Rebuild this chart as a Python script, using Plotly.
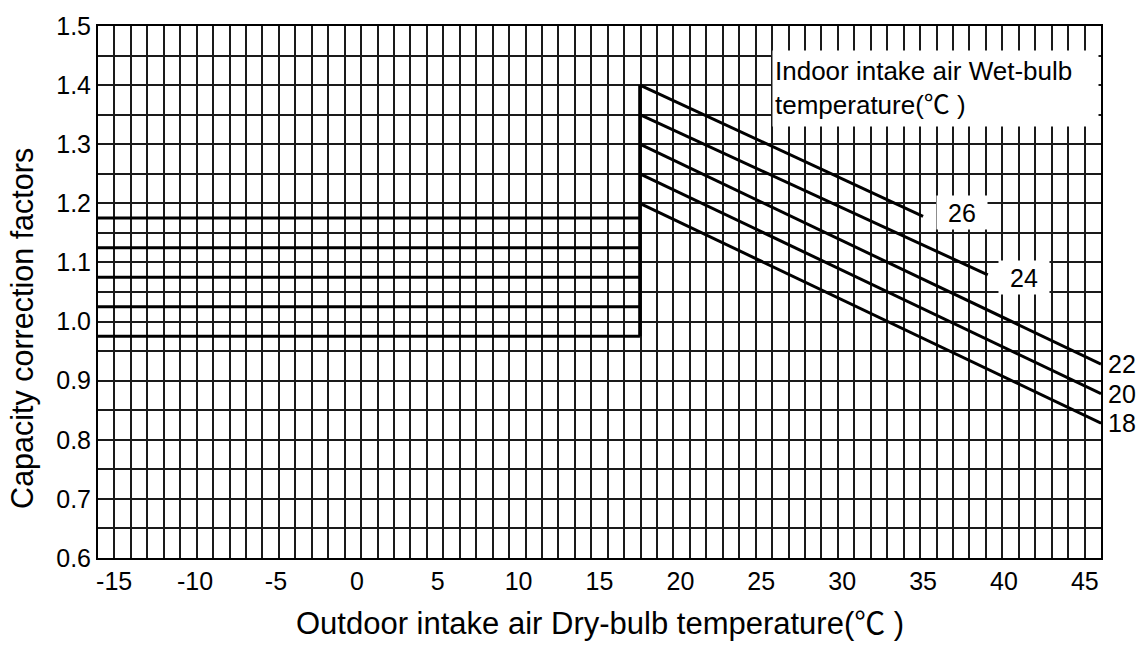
import plotly.graph_objects as go

# Indoor intake air wet-bulb temperatures (°C), one curve each
wet_bulb = ["26", "24", "22", "20", "18"]

# Constant correction factor below the switch-over temperature
flat_level = [1.175, 1.125, 1.075, 1.025, 0.975]

# Falling branch above the switch-over temperature
slope_start_y = [1.40, 1.35, 1.30, 1.25, 1.20]
slope_end_x = [35, 39, 46, 46, 46]
slope_end_y = [1.178, 1.079, 0.928, 0.878, 0.828]

x_min, x_max = -16, 46
x_switch = 17.5
y_min, y_max = 0.6, 1.5

x_ticks = [-15, -10, -5, 0, 5, 10, 15, 20, 25, 30, 35, 40, 45]
y_ticks = [0.6, 0.7, 0.8, 0.9, 1.0, 1.1, 1.2, 1.3, 1.4, 1.5]

FONT = "Liberation Sans, Arial, Helvetica, sans-serif"
INK = "#000000"
GRID = "#1a1a1a"
# full-width degree Celsius sign, set in a CJK face
DEG_C = '<span style="font-family:Noto Sans CJK JP">℃</span>'

fig = go.Figure()

for i, wb in enumerate(wet_bulb):
    # flat part
    fig.add_trace(go.Scatter(
        x=[x_min, x_switch], y=[flat_level[i], flat_level[i]],
        mode="lines", line=dict(color=INK, width=3),
        showlegend=False, hoverinfo="skip", cliponaxis=False,
    ))
    # sloped part
    fig.add_trace(go.Scatter(
        x=[x_switch, slope_end_x[i]], y=[slope_start_y[i], slope_end_y[i]],
        mode="lines", line=dict(color=INK, width=3),
        showlegend=False, hoverinfo="skip", cliponaxis=False,
    ))

# vertical jump at the switch-over temperature
fig.add_trace(go.Scatter(
    x=[x_switch, x_switch], y=[min(flat_level), max(slope_start_y)],
    mode="lines", line=dict(color=INK, width=3.5),
    showlegend=False, hoverinfo="skip",
))

annotations = []

# curve labels inside the plot (white boxes over the grid)
inner_labels = {"26": (37.4, 1.184), "24": (41.25, 1.074)}
for wb, (lx, ly) in inner_labels.items():
    annotations.append(dict(
        x=lx, y=ly, xref="x", yref="y", text=wb, showarrow=False,
        font=dict(family=FONT, size=25, color=INK),
        bgcolor="white", width=50, height=33, borderpad=0,
        xanchor="center", yanchor="middle",
    ))

# curve labels at the right edge
for i, wb in enumerate(wet_bulb):
    if slope_end_x[i] >= x_max:
        annotations.append(dict(
            x=x_max, y=slope_end_y[i], xref="x", yref="y", text=wb,
            showarrow=False, xanchor="left", yanchor="middle", xshift=5,
            font=dict(family=FONT, size=25, color=INK),
        ))

# key box
annotations.append(dict(
    x=0.672, y=0.9556, xref="paper", yref="paper",
    text="Indoor intake air Wet-bulb<br>temperature(" + DEG_C + " )",
    showarrow=False, xanchor="left", yanchor="top", align="left",
    width=321, height=71, borderpad=2, bgcolor="white",
    font=dict(family=FONT, size=26, color=INK),
))

# axis titles
annotations.append(dict(
    x=0.5, y=-0.118, xref="paper", yref="paper",
    text="Outdoor intake air Dry-bulb temperature(" + DEG_C + " )",
    showarrow=False, xanchor="center", yanchor="middle",
    font=dict(family=FONT, size=31, color=INK),
))
annotations.append(dict(
    x=-0.0748, y=0.4325, xref="paper", yref="paper",
    text="Capacity correction factors", textangle=-90,
    showarrow=False, xanchor="center", yanchor="middle",
    font=dict(family=FONT, size=30.5, color=INK),
))

fig.update_layout(
    width=1141, height=645,
    margin=dict(l=98, r=40, t=17, b=87),
    paper_bgcolor="white", plot_bgcolor="white",
    font=dict(family=FONT, size=25, color=INK),
    annotations=annotations,
)

fig.update_xaxes(
    range=[x_min, x_max], tickmode="array", tickvals=x_ticks,
    ticktext=[str(v) for v in x_ticks],
    showgrid=False, zeroline=False, ticks="",
    showline=True, mirror=True, linecolor=INK, linewidth=2,
    tickfont=dict(family=FONT, size=25, color=INK),
    minor=dict(tick0=x_min, dtick=(x_max - x_min) / 61, showgrid=True,
               gridcolor=GRID, gridwidth=1.5, ticks=""),
)
fig.update_yaxes(
    range=[y_min, y_max], tickmode="array", tickvals=y_ticks,
    ticktext=[f"{v:.1f}" for v in y_ticks],
    showgrid=True, gridcolor=GRID, gridwidth=1.5,
    zeroline=False, ticks="",
    showline=True, mirror=True, linecolor=INK, linewidth=2,
    tickfont=dict(family=FONT, size=25, color=INK),
    minor=dict(dtick=0.05, showgrid=True, gridcolor=GRID, gridwidth=1.5, ticks=""),
)

fig.write_html("out.html")
